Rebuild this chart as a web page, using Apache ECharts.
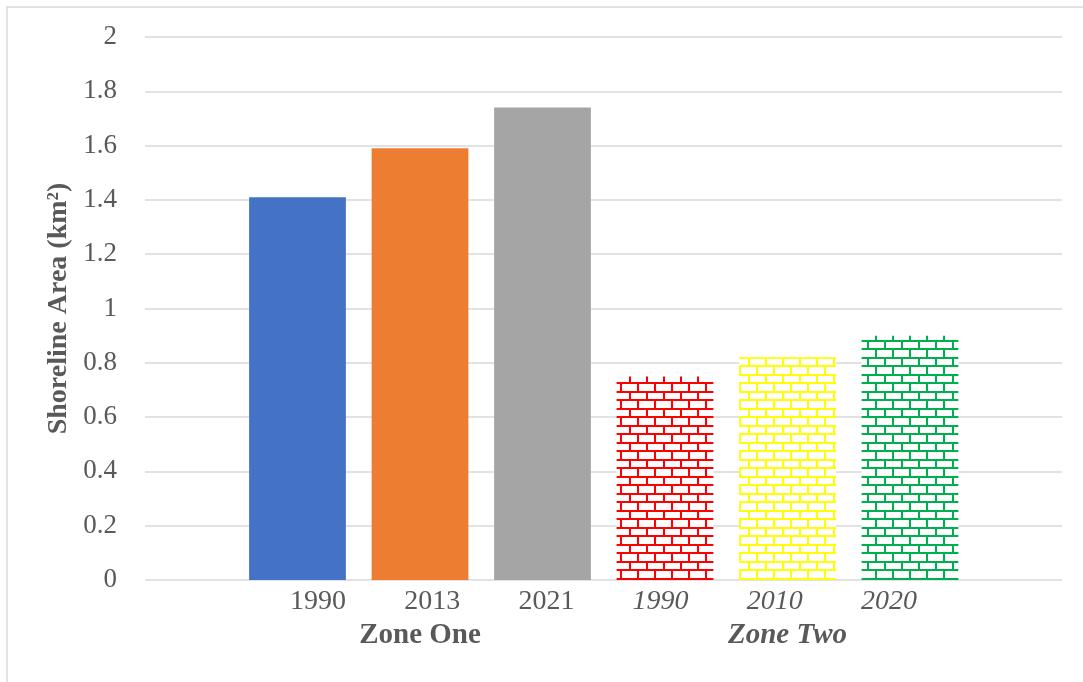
<!DOCTYPE html>
<html>
<head>
<meta charset="utf-8">
<script src="https://cdn.jsdelivr.net/npm/echarts@6/dist/echarts.min.js"></script>
<style>
html,body{margin:0;padding:0;background:#fff;}
#chart{width:1083px;height:682px;}
</style>
</head>
<body>
<div id="chart"></div>
<script>
// ---- data ----
var categories = ['1990', '2013', '2021', '1990', '2010', '2020'];
var zones = ['Zone One', 'Zone Two'];
var values = [1.41, 1.59, 1.74, 0.75, 0.82, 0.90];
var barColors = ['#4472C4', '#ED7D31', '#A5A5A5', '#FF0000', '#FFFF00', '#00B050'];
var patterned = [false, false, false, true, true, true];
var italicLabels = [false, false, false, true, true, true];
var yTicks = { min: 0, max: 2, interval: 0.2 };

// ---- brick pattern ----
function brick(color) {
  var c = document.createElement('canvas');
  c.width = 17; c.height = 17;
  var g = c.getContext('2d');
  g.fillStyle = '#ffffff';
  g.fillRect(0, 0, 17, 17);
  g.fillStyle = color;
  g.fillRect(0, 0, 17, 2);
  g.fillRect(0, 8, 17, 2);
  g.fillRect(0, 0, 2, 8);
  g.fillRect(8, 8, 2, 9);
  return { image: c, repeat: 'repeat' };
}

var font = "'Liberation Serif', 'Times New Roman', serif";
var textColor = '#595959';

var barData = values.map(function (v, i) {
  return {
    value: v,
    itemStyle: { color: patterned[i] ? brick(barColors[i]) : barColors[i] }
  };
});
var labelData = categories.map(function (c, i) {
  return { value: c, textStyle: { fontStyle: italicLabels[i] ? 'italic' : 'normal' } };
});

var chart = echarts.init(document.getElementById('chart'), null, { renderer: 'canvas' });
chart.setOption({
  animation: false,
  backgroundColor: '#ffffff',
  textStyle: { fontFamily: font },
  graphic: [{
    type: 'rect',
    shape: { x: 7, y: 7, width: 1300, height: 1000 },
    style: { fill: 'none', stroke: '#d9d9d9', lineWidth: 1.5 },
    silent: true
  }],
  grid: [
    { left: 145, right: 21, top: 37, bottom: 102 },
    { left: 236.25, right: 111.75, top: 37, bottom: 102 },
    { left: 261, right: 137, top: 37, bottom: 102 }
  ],
  xAxis: [
    { gridIndex: 0, type: 'category', data: categories, show: false },
    { gridIndex: 1, type: 'category', data: categories, show: false },
    {
      gridIndex: 1, type: 'category', position: 'bottom',
      axisLine: { show: false }, axisTick: { show: false },
      axisLabel: { margin: 41, color: textColor, fontFamily: font, fontSize: 29, fontWeight: 'bold' },
      data: [
        { value: zones[0], textStyle: { fontStyle: 'normal' } },
        { value: zones[1], textStyle: { fontStyle: 'italic' } }
      ]
    },
    {
      gridIndex: 2, type: 'category', data: labelData, position: 'bottom',
      axisLine: { show: false }, axisTick: { show: false },
      axisLabel: { margin: 8, color: textColor, fontFamily: font, fontSize: 28 }
    }
  ],
  yAxis: [
    {
      gridIndex: 0, type: 'value', min: yTicks.min, max: yTicks.max, interval: yTicks.interval,
      axisLine: { show: false }, axisTick: { show: false },
      axisLabel: { margin: 28, color: textColor, fontFamily: font, fontSize: 27 },
      splitLine: { lineStyle: { color: '#d9d9d9', width: 1.5 } },
      name: 'Shoreline Area (km²)', nameLocation: 'middle', nameGap: 72,
      nameTextStyle: { color: textColor, fontFamily: font, fontSize: 28, fontWeight: 'bold' }
    },
    { gridIndex: 1, type: 'value', min: yTicks.min, max: yTicks.max, interval: yTicks.interval, show: false },
    { gridIndex: 2, type: 'value', min: yTicks.min, max: yTicks.max, interval: yTicks.interval, show: false }
  ],
  series: [{
    type: 'bar',
    xAxisIndex: 1,
    yAxisIndex: 1,
    data: barData,
    barCategoryGap: '21%'
  }]
});
</script>
</body>
</html>
